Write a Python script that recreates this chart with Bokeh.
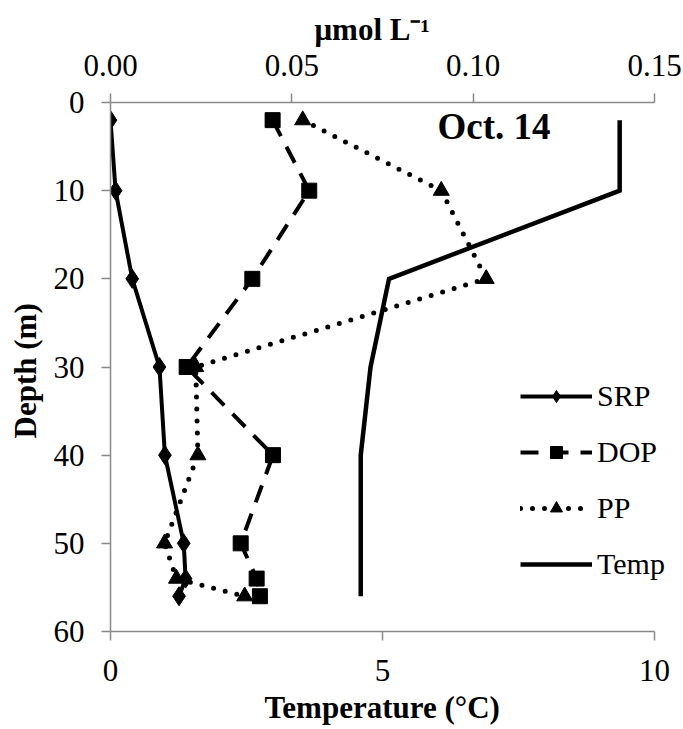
from bokeh.plotting import figure
from bokeh.models import (Range1d, LinearAxis, FixedTicker, Legend, LegendItem,
                          Label, NumeralTickFormatter, Title)
from bokeh.embed import file_html
from bokeh.resources import INLINE

# ---- data ----
depth = [2, 10, 20, 30, 40, 50, 54, 56]
srp = [0.0000, 0.0014, 0.0060, 0.0135, 0.0150, 0.0202, 0.0207, 0.0189]
dop = [0.0447, 0.0548, 0.0391, 0.0210, 0.0448, 0.0359, 0.0403, 0.0412]
pp = [0.0530, 0.0912, 0.1036, 0.0235, 0.0241, 0.0149, 0.0182, 0.0370]
temp = [9.36, 9.36, 5.12, 4.78, 4.60, 4.60, 4.60, 4.60]

depth_ticks = [0, 10, 20, 30, 40, 50, 60]
temp_ticks = [0, 5, 10]
conc_ticks = [0.0, 0.05, 0.10, 0.15]
series_names = ["SRP", "DOP", "PP", "Temp"]
panel_label = "Oct. 14"
x_title = "Temperature (°C)"
top_title = "μmol L⁻¹"
y_title = "Depth  (m)"

FONT = "Liberation Serif"
AXIS_GREY = "#898989"

# frame runs to the right edge of the page so the legend text is not clipped;
# the axes are bounded to their real extents (temp 0-10, conc 0-0.15)
FRAME_LEFT, AXIS_RIGHT, PAGE_W = 110, 654, 683
ext = (PAGE_W - FRAME_LEFT) / (AXIS_RIGHT - FRAME_LEFT)

p = figure(width=683, height=729, x_range=Range1d(0, 10 * ext), y_range=Range1d(60, 0),
           output_backend="svg", toolbar_location=None,
           min_border_left=FRAME_LEFT, min_border_right=0, min_border_top=102,
           min_border_bottom=98, x_axis_location=None, y_axis_location=None)
p.extra_x_ranges = {"conc": Range1d(0, 0.15 * ext)}
p.grid.visible = False
p.outline_line_color = None
p.background_fill_color = "white"
p.border_fill_color = "white"

bottom_axis = LinearAxis(ticker=FixedTicker(ticks=temp_ticks), bounds=(0, 10))
top_axis = LinearAxis(x_range_name="conc", ticker=FixedTicker(ticks=conc_ticks),
                      formatter=NumeralTickFormatter(format="0.00"), bounds=(0, 0.15))
left_axis = LinearAxis(ticker=FixedTicker(ticks=depth_ticks), axis_label=y_title)
p.add_layout(bottom_axis, "below")
p.add_layout(top_axis, "above")
p.add_layout(left_axis, "left")

for ax in (bottom_axis, top_axis, left_axis):
    ax.axis_line_color = AXIS_GREY
    ax.axis_line_width = 1.5
    ax.major_tick_line_color = AXIS_GREY
    ax.major_tick_line_width = 1.5
    ax.major_tick_out = 9
    ax.major_tick_in = 0
    ax.minor_tick_line_color = None
    ax.major_label_text_font = FONT
    ax.major_label_text_font_size = "31px"
    ax.major_label_text_color = "black"
    ax.axis_label_text_font = FONT
    ax.axis_label_text_font_size = "31px"
    ax.axis_label_text_font_style = "bold"
    ax.axis_label_text_color = "black"

top_axis.major_label_standoff = 18
top_axis.major_label_text_line_height = 0.8
bottom_axis.major_label_standoff = 19
left_axis.major_label_standoff = 17
left_axis.axis_label_standoff = 8

# axis titles of the top and bottom axes, set off-centre as in the reference
title_kw = dict(text_font=FONT, text_font_size="31px", text_font_style="bold",
                text_color="black", align="left")
p.add_layout(Title(text=x_title, offset=154, standoff=8, **title_kw), "below")
p.add_layout(Title(text=top_title, offset=204, standoff=10, text_line_height=0.8,
                   **title_kw), "above")

# Temperature (bottom axis)
r_temp = p.line(temp, depth, line_color="black", line_width=4.5, line_join="miter")

# Concentrations (top axis)
r_srp_l = p.line(srp, depth, x_range_name="conc", line_color="black", line_width=4,
                 line_join="round")
r_dop_l = p.line(dop, depth, x_range_name="conc", line_color="black", line_width=4,
                 line_dash="18 12", line_join="round")
r_pp_l = p.line(pp, depth, x_range_name="conc", line_color="black", line_width=5,
                line_dash="0 12", line_cap="round", line_join="round")

r_srp_m = p.scatter(srp, depth, x_range_name="conc", marker="diamond", size=19,
                    fill_color="black", line_color="black")
r_dop_m = p.scatter(dop, depth, x_range_name="conc", marker="square", size=15,
                    fill_color="black", line_color="black")
r_pp_m = p.scatter(pp, depth, x_range_name="conc", marker="triangle", size=16,
                   fill_color="black", line_color="black")

legend = Legend(items=[
    LegendItem(label=series_names[0], renderers=[r_srp_l, r_srp_m]),
    LegendItem(label=series_names[1], renderers=[r_dop_l, r_dop_m]),
    LegendItem(label=series_names[2], renderers=[r_pp_l, r_pp_m]),
    LegendItem(label=series_names[3], renderers=[r_temp]),
], location=(410, 50), border_line_color=None, background_fill_alpha=0,
    glyph_width=72, glyph_height=30, label_height=30, label_standoff=5,
    spacing=22, padding=0, margin=0, label_text_font=FONT,
    label_text_font_size="30px", label_text_color="black")
p.add_layout(legend)

p.add_layout(Label(x=6.01, y=2.7, text=panel_label, text_font=FONT,
                   text_font_size="37px", text_font_style="bold",
                   text_align="left", text_baseline="alphabetic",
                   text_color="black"))

open("out.html", "w").write(file_html(p, INLINE))
